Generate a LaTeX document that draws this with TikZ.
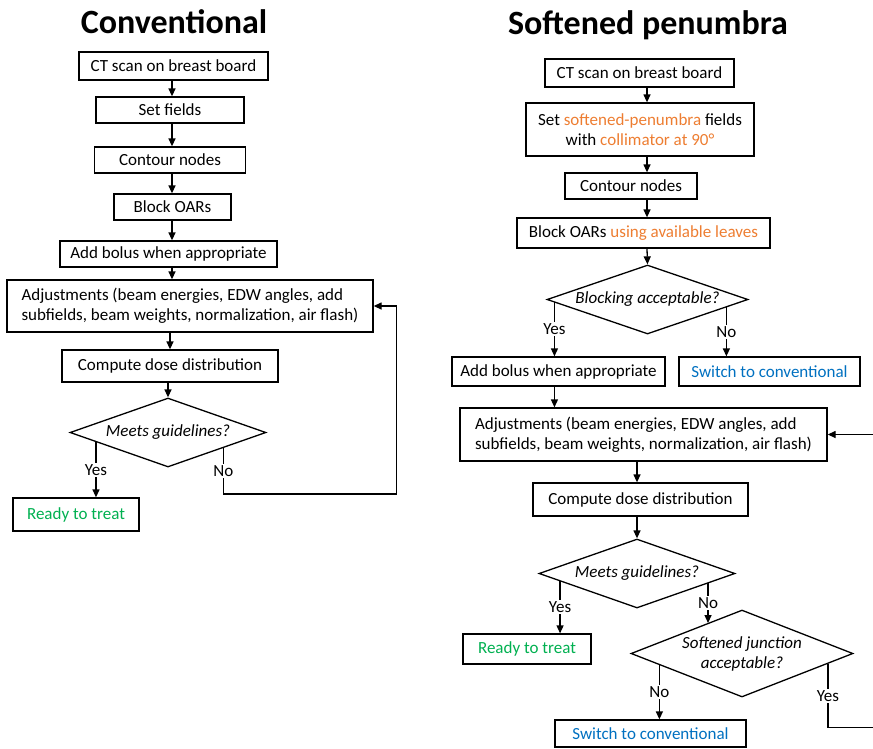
\documentclass[tikz,border=0pt]{standalone}
\usepackage{fontspec}
\setmainfont{Carlito}
\usetikzlibrary{arrows.meta,calc,shapes.geometric}

\definecolor{orng}{RGB}{237,125,49}
\definecolor{blu}{RGB}{0,112,192}
\definecolor{grn}{RGB}{0,176,80}

\tikzset{
  box/.style={draw, line width=1.3pt, inner sep=0pt, font=\fontsize{17}{20}\selectfont},
  dec/.style={draw, diamond, line width=1.3pt, inner sep=0pt, align=center,
    font=\fontsize{17}{20}\selectfont\itshape},
  lbl/.style={fill=white, inner sep=1.5pt, font=\fontsize{17}{20}\selectfont},
  ttl/.style={font=\fontsize{34}{36}\selectfont\bfseries},
  arr/.style={line width=1.3pt, -{Triangle[length=8pt,width=7pt]}},
  lin/.style={line width=1.3pt}
}

\begin{document}
\begin{tikzpicture}[x=1pt,y=-1pt]
  \useasboundingbox (0,0) rectangle (873,748);
  % conventional
  \node[ttl] at (174,22) (t1) {Conventional};
  \node[box, minimum width=189, minimum height=28] at (173.5,66) (c1) {CT scan on breast board};
  \node[box, minimum width=148, minimum height=26] at (170,110) (s1) {Set fields};
  \node[box, minimum width=151, minimum height=26] at (170,160) (o1) {Contour nodes};
  \node[box, minimum width=117, minimum height=26] at (172.5,207) (b1) {Block OARs};
  \node[box, minimum width=217, minimum height=26] at (168.5,254) (p1) {Add bolus when appropriate};
  \node[box, minimum width=366, minimum height=52, align=left] at (190,306) (a1)
    {Adjustments (beam energies, EDW angles, add\\subfields, beam weights, normalization, air flash)};
  \node[box, minimum width=216, minimum height=32] at (170,366) (d1) {Compute dose distribution};
  \node[dec, aspect=2.84, minimum width=196, minimum height=69] at (168,432.5) (m1) {Meets guidelines?};
  \node[box, minimum width=126, minimum height=33, text=grn] at (76,514.5) (r1) {Ready to treat};

  \coordinate (ax1) at (172,0);
  \draw[arr] (c1.south -| ax1) -- (s1.north -| ax1);
  \draw[arr] (s1.south -| ax1) -- (o1.north -| ax1);
  \draw[arr] (o1.south -| ax1) -- (b1.north -| ax1);
  \draw[arr] (b1.south -| ax1) -- (p1.north -| ax1);
  \draw[arr] (p1.south -| ax1) -- (a1.north -| ax1);
  \draw[arr] (a1.south -| d1) -- (d1.north);
  \draw[arr] (d1.south -| m1) -- (m1.north);

  \coordinate (y1) at ($(m1.west)!.27!(m1.south)$);
  \coordinate (n1) at ($(m1.east)!.44!(m1.south)$);
  \draw[arr] (y1) -- node[lbl]{Yes} (y1 |- r1.north);
  \draw[arr] (n1) -- node[lbl]{No} ++(0,46) -| ($(a1.east)+(23,0)$) -- (a1.east);

  % softened penumbra
  \node[ttl] at (648,25) (t2) {Softened penumbra};
  \node[box, minimum width=189, minimum height=28] at (639.5,73) (c2) {CT scan on breast board};
  \node[box, minimum width=228, minimum height=53, align=center] at (640,129.5) (s2)
    {Set \textcolor{orng}{softened-penumbra} fields\\with \textcolor{orng}{collimator at 90°}};
  \node[box, minimum width=132, minimum height=26] at (631,186) (o2) {Contour nodes};
  \node[box, minimum width=253, minimum height=30] at (643.5,233) (b2)
    {Block OARs \textcolor{orng}{using available leaves}};
  \node[dec, aspect=2.9, minimum width=201, minimum height=69] at (647.5,299.5) (k2) {Blocking acceptable?};
  \node[box, minimum width=213, minimum height=29] at (558.5,371.5) (p2) {Add bolus when appropriate};
  \node[box, minimum width=181, minimum height=29, text=blu] at (769.5,371.5) (w2) {Switch to conventional};
  \node[box, minimum width=367, minimum height=53, align=left] at (643.5,434.5) (a2)
    {Adjustments (beam energies, EDW angles, add\\subfields, beam weights, normalization, air flash)};
  \node[box, minimum width=215, minimum height=33] at (640.5,499.5) (d2) {Compute dose distribution};
  \node[dec, aspect=2.84, minimum width=196, minimum height=69] at (637,573.5) (m2) {Meets guidelines?};
  \node[box, minimum width=128, minimum height=30, text=grn] at (527,649) (r2) {Ready to treat};
  \node[dec, aspect=2.55, minimum width=222, minimum height=87] at (742,653.5) (j2) {Softened junction\\acceptable?};
  \node[box, minimum width=191, minimum height=27, text=blu] at (650.5,733.5) (w3) {Switch to conventional};

  \coordinate (ax2) at (647,0);
  \draw[arr] (c2.south -| ax2) -- (s2.north -| ax2);
  \draw[arr] (s2.south -| ax2) -- (o2.north -| ax2);
  \draw[arr] (o2.south -| ax2) -- (b2.north -| ax2);
  \draw[arr] (b2.south -| ax2) -- (k2.north);

  \coordinate (y2) at ($(k2.west)!.08!(k2.south)$);
  \coordinate (n2) at ($(k2.east)!.22!(k2.south)$);
  \draw[arr] (y2) -- node[lbl]{Yes} (y2 |- p2.north);
  \draw[arr] (n2) -- node[lbl]{No} (n2 |- w2.north);
  \draw[arr] (p2.south -| y2) -- (a2.north -| y2);
  \draw[arr] (a2.south -| m2) -- (d2.north -| m2);
  \draw[arr] (d2.south -| m2) -- (m2.north);

  \coordinate (y3) at ($(m2.west)!.22!(m2.south)$);
  \coordinate (n3) at ($(m2.east)!.28!(m2.south)$);
  \coordinate (e3) at ($(j2.west)!.69!(j2.north)$);
  \draw[arr] (y3) -- node[lbl]{Yes} (y3 |- r2.north);
  \draw[arr] (n3) -- node[lbl]{No} (n3 |- e3);

  \coordinate (n4) at ($(j2.west)!.26!(j2.south)$);
  \coordinate (y4) at ($(j2.east)!.23!(j2.south)$);
  \draw[arr] (n4) -- node[lbl]{No} (n4 |- w3.north);
  \draw[arr] (y4) -- node[lbl]{Yes} ++(0,64) -- ++(70,0) |- (a2.east);
\end{tikzpicture}
\end{document}
